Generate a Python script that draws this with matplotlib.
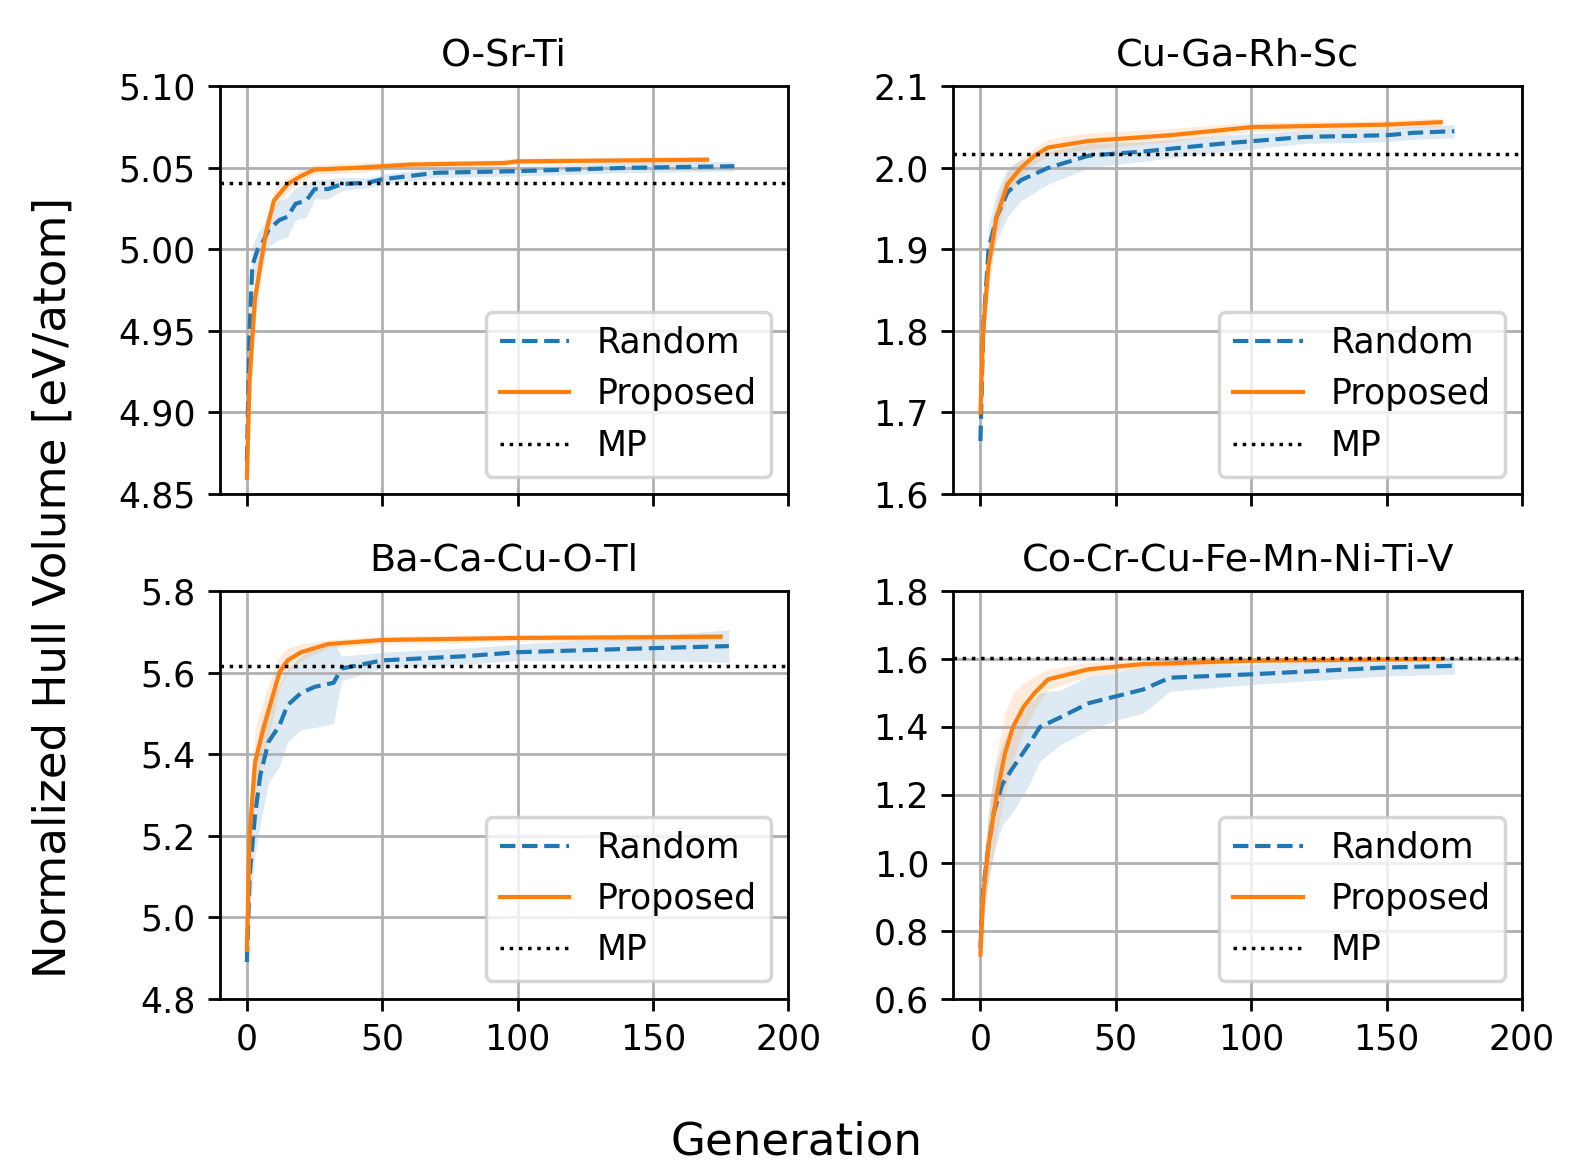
import numpy as np
import matplotlib.pyplot as plt

titles = ['O-Sr-Ti', 'Cu-Ga-Rh-Sc', 'Ba-Ca-Cu-O-Tl', 'Co-Cr-Cu-Fe-Mn-Ni-Ti-V']
mp = [5.041, 2.017, 5.617, 1.603]
ylims = [(4.85, 5.10), (1.6, 2.1), (4.8, 5.8), (0.6, 1.8)]
yticks = [np.arange(4.85, 5.101, 0.05), np.arange(1.6, 2.101, 0.1),
          np.arange(4.8, 5.801, 0.2), np.arange(0.6, 1.801, 0.2)]
yfmt = ['%.2f', '%.1f', '%.1f', '%.1f']

# random search: generation, mean, band half-width
rand_x = [
    [0, 1, 2, 4, 6, 8, 12, 15, 18, 22, 25, 30, 35, 45, 50, 70, 100, 140, 180],
    [0, 1, 3, 6, 10, 15, 25, 40, 60, 90, 120, 150, 160, 175],
    [0, 1, 3, 5, 8, 12, 15, 20, 25, 32, 35, 50, 80, 100, 150, 178],
    [0, 1, 3, 5, 8, 12, 18, 22, 30, 40, 50, 60, 70, 100, 150, 175],
]
rand_y = [
    [4.87, 4.95, 4.99, 5.0, 5.005, 5.012, 5.018, 5.02, 5.028, 5.03, 5.037, 5.037, 5.04, 5.041, 5.043, 5.047, 5.048, 5.05, 5.051],
    [1.665, 1.8, 1.9, 1.94, 1.97, 1.985, 2.0, 2.015, 2.02, 2.03, 2.038, 2.04, 2.043, 2.045],
    [4.89, 5.1, 5.25, 5.35, 5.43, 5.47, 5.52, 5.55, 5.565, 5.575, 5.61, 5.63, 5.64, 5.65, 5.66, 5.665],
    [0.75, 0.92, 1.05, 1.15, 1.23, 1.28, 1.35, 1.4, 1.43, 1.47, 1.49, 1.51, 1.545, 1.555, 1.575, 1.58],
]
rand_w = [
    [0.01, 0.02, 0.012, 0.01, 0.01, 0.01, 0.012, 0.012, 0.01, 0.01, 0.006, 0.006, 0.004, 0.003, 0.003, 0.003, 0.003, 0.003, 0.003],
    [0.02, 0.04, 0.03, 0.03, 0.03, 0.025, 0.02, 0.015, 0.012, 0.01, 0.008, 0.008, 0.008, 0.008],
    [0.05, 0.1, 0.1, 0.12, 0.1, 0.1, 0.09, 0.09, 0.1, 0.1, 0.03, 0.02, 0.02, 0.02, 0.03, 0.04],
    [0.05, 0.08, 0.1, 0.12, 0.12, 0.13, 0.12, 0.1, 0.08, 0.08, 0.07, 0.07, 0.04, 0.03, 0.025, 0.025],
]
prop_x = [
    [0, 1, 3, 5, 7, 10, 15, 20, 25, 40, 60, 95, 100, 170],
    [0, 1, 3, 6, 10, 15, 20, 25, 40, 70, 100, 150, 170],
    [0, 1, 3, 6, 9, 12, 15, 20, 30, 50, 100, 175],
    [0, 1, 3, 6, 9, 12, 16, 20, 25, 40, 60, 100, 170],
]
prop_y = [
    [4.86, 4.92, 4.97, 4.99, 5.01, 5.03, 5.04, 5.045, 5.049, 5.05, 5.052, 5.053, 5.054, 5.055],
    [1.7, 1.8, 1.88, 1.94, 1.98, 2.0, 2.015, 2.025, 2.033, 2.04, 2.05, 2.053, 2.056],
    [4.92, 5.2, 5.38, 5.46, 5.53, 5.6, 5.63, 5.65, 5.67, 5.68, 5.685, 5.688],
    [0.73, 0.9, 1.05, 1.2, 1.32, 1.4, 1.46, 1.5, 1.54, 1.57, 1.585, 1.595, 1.6],
]
prop_w = [
    [0.01, 0.02, 0.015, 0.01, 0.008, 0.006, 0.005, 0.004, 0.003, 0.003, 0.002, 0.002, 0.002, 0.002],
    [0.02, 0.03, 0.03, 0.02, 0.015, 0.012, 0.01, 0.01, 0.01, 0.008, 0.006, 0.005, 0.005],
    [0.05, 0.08, 0.08, 0.07, 0.06, 0.04, 0.03, 0.02, 0.01, 0.01, 0.008, 0.008],
    [0.04, 0.08, 0.1, 0.12, 0.12, 0.1, 0.07, 0.05, 0.03, 0.02, 0.01, 0.008, 0.005],
]

fig, axes = plt.subplots(2, 2, figsize=(6.37, 4.7), dpi=250, sharex=True)
for i, ax in enumerate(axes.flat):
    rx, ry, rw = np.array(rand_x[i]), np.array(rand_y[i]), np.array(rand_w[i])
    px, py, pw = np.array(prop_x[i]), np.array(prop_y[i]), np.array(prop_w[i])
    ax.fill_between(rx, ry - rw, ry + rw, color='C0', alpha=0.15, lw=0)
    ax.fill_between(px, py - pw, py + pw, color='C1', alpha=0.15, lw=0)
    ax.plot(rx, ry, '--', color='C0', lw=1.2, label='Random')
    ax.plot(px, py, '-', color='C1', lw=1.2, label='Proposed')
    ax.axhline(mp[i], color='k', ls=':', lw=1, label='MP')
    ax.set_title(titles[i], fontsize=11)
    ax.set_ylim(*ylims[i])
    ax.set_yticks(yticks[i])
    ax.yaxis.set_major_formatter(plt.FormatStrFormatter(yfmt[i]))
    ax.set_xlim(-10, 200)
    ax.set_xticks([0, 50, 100, 150, 200])
    ax.grid(True)
    ax.legend(loc='lower right')
fig.supxlabel('Generation', fontsize=13)
fig.supylabel('Normalized Hull Volume [eV/atom]', fontsize=13)
fig.tight_layout(h_pad=0.8, w_pad=1.5)
fig.savefig('out.png')
